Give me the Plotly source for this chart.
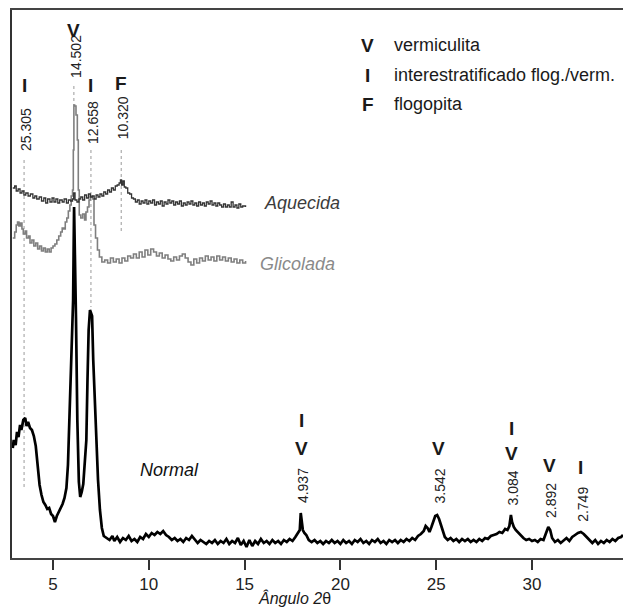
import plotly.graph_objects as go

# ---------------- data (2θ in degrees, relative intensity) ----------------
normal_x = [2.90, 2.95, 3.05, 3.12, 3.20, 3.28, 3.35, 3.45, 3.55, 3.62, 3.70, 3.80, 3.90, 4.00, 4.10, 4.20,
            4.30, 4.40, 4.50, 4.60, 4.70, 4.80, 4.90, 5.00, 5.10, 5.20, 5.30, 5.40, 5.50, 5.60, 5.70, 5.78,
            5.85, 5.92, 6.00, 6.05, 6.10, 6.15, 6.20, 6.27, 6.35, 6.42, 6.50, 6.58, 6.66, 6.74, 6.80, 6.86,
            6.93, 6.98, 7.04, 7.10, 7.18, 7.26, 7.35, 7.45, 7.55, 7.65, 7.80, 7.95, 8.10, 8.20, 8.35, 8.50,
            8.65, 8.80, 8.95, 9.10, 9.25, 9.40, 9.55, 9.70, 9.85, 10.00, 10.15, 10.30, 10.45, 10.60, 10.75,
            10.90, 11.05, 11.20, 11.35, 11.50, 11.65, 11.80, 11.95, 12.10, 12.25, 12.40, 12.55, 12.70, 12.85,
            13.00, 13.15, 13.30, 13.45, 13.60, 13.75, 13.90, 14.05, 14.20, 14.35, 14.50, 14.65, 14.80, 14.95,
            15.10, 15.25, 15.40, 15.55, 15.70, 15.85, 16.00, 16.15, 16.30, 16.45, 16.60, 16.75, 16.90, 17.05,
            17.20, 17.35, 17.50, 17.65, 17.78, 17.88, 17.93, 17.98, 18.04, 18.12, 18.22, 18.35, 18.50, 18.65,
            18.80, 18.95, 19.10, 19.25, 19.40, 19.55, 19.70, 19.85, 20.00, 20.15, 20.30, 20.45, 20.60, 20.75,
            20.90, 21.05, 21.20, 21.35, 21.50, 21.65, 21.80, 21.95, 22.10, 22.25, 22.40, 22.55, 22.70, 22.85,
            23.00, 23.15, 23.30, 23.45, 23.60, 23.75, 23.90, 24.05, 24.20, 24.35, 24.45, 24.55, 24.65, 24.75,
            24.85, 24.95, 25.05, 25.15, 25.25, 25.35, 25.45, 25.60, 25.75, 25.90, 26.05, 26.20, 26.35, 26.50,
            26.65, 26.80, 26.95, 27.10, 27.25, 27.40, 27.55, 27.70, 27.85, 28.00, 28.15, 28.30, 28.45, 28.60,
            28.72, 28.82, 28.90, 28.96, 29.05, 29.15, 29.25, 29.40, 29.55, 29.70, 29.85, 30.00, 30.15, 30.30,
            30.45, 30.60, 30.75, 30.85, 30.95, 31.05, 31.20, 31.35, 31.50, 31.65, 31.80, 31.95, 32.10, 32.25,
            32.40, 32.55, 32.70, 32.85, 33.00, 33.15, 33.30, 33.45, 33.60, 33.75, 33.90, 34.05, 34.20, 34.35,
            34.50, 34.65, 34.75]
normal_y = [110, 118, 113, 126, 121, 133, 128, 138, 140, 132, 136, 130, 128, 122, 112, 93,
            73, 63, 56, 53, 49, 50, 44, 42, 36, 42, 46, 50, 54, 60, 70, 93,
            138, 178, 218, 258, 351, 308, 240, 138, 76, 61, 66, 74, 93, 118, 178, 228,
            248, 246, 242, 198, 158, 123, 78, 48, 30, 22, 20, 18, 22, 17, 21, 16,
            20, 18, 22, 17, 19, 16, 21, 19, 24, 21, 25, 23, 26, 24, 27,
            23, 21, 18, 20, 17, 19, 16, 20, 18, 22, 19, 15, 18, 16,
            14, 17, 15, 18, 14, 17, 15, 19, 14, 17, 15, 20, 13, 17,
            11, 18, 12, 17, 14, 19, 15, 17, 14, 18, 15, 17, 14, 18,
            16, 19, 17, 21, 25, 28, 45, 38, 28, 25, 23, 18, 16, 18,
            15, 17, 14, 17, 15, 18, 15, 17, 14, 18, 15, 17, 14, 18,
            16, 19, 15, 17, 14, 18, 16, 19, 15, 17, 14, 18, 16, 18,
            15, 18, 16, 19, 17, 20, 18, 22, 24, 27, 32, 30, 26, 31,
            36, 42, 43, 39, 33, 26, 21, 18, 20, 17, 19, 16, 19, 17,
            19, 16, 18, 16, 19, 17, 20, 19, 22, 23, 24, 26, 25, 29,
            28, 32, 43, 36, 31, 28, 26, 22, 20, 18, 19, 17, 18, 16,
            19, 18, 25, 31, 28, 20, 16, 18, 15, 18, 20, 17, 21, 23,
            25, 26, 24, 21, 18, 15, 18, 14, 17, 15, 18, 16, 19, 17,
            20, 21, 23]

aquecida_x = [2.90, 3.00, 3.08, 3.18, 3.28, 3.38, 3.48, 3.58, 3.70, 3.82, 3.95, 4.05, 4.15, 4.28, 4.40, 4.52,
              4.62, 4.72, 4.84, 4.95, 5.05, 5.15, 5.25, 5.35, 5.48, 5.58, 5.70, 5.80, 5.92, 6.02, 6.08, 6.15,
              6.25, 6.35, 6.45, 6.55, 6.65, 6.75, 6.85, 6.95, 7.05, 7.15, 7.25, 7.35, 7.45, 7.55, 7.65, 7.75,
              7.85, 7.95, 8.05, 8.15, 8.25, 8.35, 8.45, 8.52, 8.58, 8.65, 8.72, 8.80, 8.90, 9.00, 9.10, 9.20,
              9.30, 9.40, 9.50, 9.60, 9.70, 9.80, 9.90, 10.00, 10.10, 10.20, 10.30, 10.40, 10.50, 10.60, 10.70,
              10.80, 10.90, 11.00, 11.10, 11.20, 11.30, 11.40, 11.50, 11.60, 11.70, 11.80, 11.90, 12.00, 12.10,
              12.20, 12.30, 12.40, 12.50, 12.60, 12.70, 12.80, 12.90, 13.00, 13.10, 13.20, 13.30, 13.40, 13.50,
              13.60, 13.70, 13.80, 13.90, 14.00, 14.10, 14.20, 14.30, 14.40, 14.50, 14.60, 14.70, 14.80, 14.90,
              15.05]
aquecida_y = [370, 372, 367, 369, 365, 367, 363, 365, 362, 364, 360, 362, 359, 361, 357, 360,
              355, 359, 356, 360, 356, 359, 355, 358, 356, 359, 355, 358, 357, 359, 365, 358,
              356, 359, 361, 358, 363, 360, 364, 361, 362, 359, 363, 361, 364, 362, 366, 364,
              368, 366, 370, 368, 372, 373, 375, 378, 373, 377, 371, 370, 365, 364, 360, 359,
              356, 358, 354, 357, 355, 358, 354, 357, 355, 358, 353, 356, 354, 357, 352,
              356, 354, 358, 355, 357, 353, 356, 354, 357, 352, 355, 353, 356, 354,
              357, 353, 355, 352, 356, 353, 355, 352, 356, 354, 357, 353, 355, 352,
              355, 353, 351, 354, 351, 353, 351, 356, 351, 353, 350, 354, 351, 352,
              351]

glicolada_x = [2.90, 3.00, 3.08, 3.15, 3.22, 3.30, 3.38, 3.45, 3.55, 3.62, 3.72, 3.80, 3.90, 4.00, 4.10, 4.20,
               4.30, 4.40, 4.50, 4.60, 4.70, 4.80, 4.90, 5.00, 5.10, 5.20, 5.30, 5.40, 5.48, 5.56, 5.64, 5.72,
               5.80, 5.88, 5.95, 6.02, 6.06, 6.09, 6.13, 6.20, 6.27, 6.32, 6.37, 6.45, 6.55, 6.65, 6.72, 6.80,
               6.88, 6.95, 7.02, 7.08, 7.14, 7.22, 7.32, 7.42, 7.55, 7.70, 7.85, 8.00, 8.15, 8.30, 8.45, 8.60,
               8.75, 8.90, 9.05, 9.20, 9.35, 9.50, 9.65, 9.80, 9.95, 10.10, 10.25, 10.40, 10.55, 10.70, 10.85,
               11.00, 11.15, 11.30, 11.45, 11.60, 11.75, 11.90, 12.05, 12.20, 12.35, 12.50, 12.65, 12.80, 12.95,
               13.10, 13.25, 13.40, 13.55, 13.70, 13.85, 14.00, 14.15, 14.30, 14.45, 14.60, 14.75, 14.90, 15.05]
glicolada_y = [320, 326, 333, 336, 332, 335, 329, 324, 327, 320, 322, 315, 318, 312, 315, 309,
               312, 307, 310, 306, 309, 306, 310, 312, 314, 318, 322, 326, 330, 329, 336, 340,
               347, 353, 362, 368, 408, 453, 452, 443, 418, 368, 343, 340, 344, 338, 346, 351,
               358, 362, 361, 359, 333, 320, 308, 301, 296, 298, 295, 300, 296, 299, 295, 300,
               297, 302, 300, 304, 300, 306, 301, 308, 303, 309, 306, 302, 305, 300, 303,
               299, 297, 301, 298, 302, 304, 300, 296, 293, 299, 295, 300, 297, 302,
               298, 301, 297, 302, 298, 301, 297, 300, 296, 299, 295, 298, 295, 297]

# peak annotations
peak_2theta = [3.49, 6.09, 6.98, 8.56, 17.95, 25.12, 28.93, 30.89, 32.55]
peak_d = ["25.305", "14.502", "12.658", "10.320", "4.937", "3.542", "3.084", "2.892", "2.749"]
peak_label_y = [428, 502, 436, 440, 72, 72, 70, 57, 54]
peak_phases = [["I"], ["V"], ["I"], ["F"], ["V", "I"], ["V"], ["V", "I"], ["V"], ["I"]]
peak_phase_y = [[473], [528], [473], [475], [110, 138], [110], [105, 130], [93], [91]]

# dotted guide lines (2θ, y from, y to)
guide_x = [3.49, 6.09, 6.98, 8.56]
guide_top = [398, 472, 408, 408]
guide_bottom = [71, 453, 251, 326]

legend_symbols = ["V", "I", "F"]
legend_texts = ["vermiculita", "interestratificado flog./verm.", "flogopita"]
legend_y = [513, 483, 454]

curve_names = ["Aquecida", "Glicolada", "Normal"]
curve_label_x = [15.91, 15.70, 9.44]
curve_label_y = [355, 294, 88]
curve_colors = ["#3c3c3c", "#8a8a8a", "#111111"]

tick_vals = [5, 10, 15, 20, 25, 30]
x_range = [2.86, 34.75]
y_range = [0, 548]

FONT = "Liberation Sans, Arial, sans-serif"

fig = go.Figure()

# dotted guides
for gx, gt, gb in zip(guide_x, guide_top, guide_bottom):
    fig.add_trace(go.Scatter(x=[gx, gx], y=[gt, gb], mode="lines",
                             line=dict(color="#9a9a9a", width=1, dash="dot"),
                             hoverinfo="skip", showlegend=False))

fig.add_trace(go.Scatter(x=normal_x, y=normal_y, mode="lines", name="Normal",
                         line=dict(color="#000000", width=2.7), showlegend=False))
fig.add_trace(go.Scatter(x=glicolada_x, y=glicolada_y, mode="lines", name="Glicolada",
                         line=dict(color="#7f7f7f", width=1.6, shape="hv"), showlegend=False))
fig.add_trace(go.Scatter(x=aquecida_x, y=aquecida_y, mode="lines", name="Aquecida",
                         line=dict(color="#333333", width=1.3, shape="hv"), showlegend=False))

ann = []
for px, d, ly, ph, phy in zip(peak_2theta, peak_d, peak_label_y, peak_phases, peak_phase_y):
    ann.append(dict(x=px, y=ly, text=d, textangle=-90, showarrow=False, xshift=2,
                    xanchor="center", yanchor="middle",
                    font=dict(family=FONT, size=14, color="#222222")))
    for s, sy in zip(ph, phy):
        ann.append(dict(x=px, y=sy, text="<b>" + s + "</b>", showarrow=False,
                        xanchor="center", yanchor="middle",
                        font=dict(family=FONT, size=19, color="#1a1a1a")))

for s, t, ly in zip(legend_symbols, legend_texts, legend_y):
    ann.append(dict(x=21.44, y=ly, text="<b>" + s + "</b>", showarrow=False,
                    xanchor="center", yanchor="middle",
                    font=dict(family=FONT, size=19, color="#1a1a1a")))
    ann.append(dict(x=22.69, y=ly, text=t, showarrow=False,
                    xanchor="left", yanchor="middle",
                    font=dict(family=FONT, size=18, color="#1a1a1a")))

for n, cx, cy, cc in zip(curve_names, curve_label_x, curve_label_y, curve_colors):
    ann.append(dict(x=cx, y=cy, text="<i>" + n + "</i>", showarrow=False,
                    xanchor="left", yanchor="middle",
                    font=dict(family=FONT, size=18, color=cc)))

ann.append(dict(x=17.58, y=-0.073, yref="paper", text="<i>Ângulo 2</i>θ", showarrow=False,
                xanchor="center", yanchor="middle",
                font=dict(family=FONT, size=16, color="#1a1a1a")))

fig.update_layout(
    width=623, height=609,
    margin=dict(l=12, r=0, t=10, b=51),
    paper_bgcolor="white", plot_bgcolor="white",
    annotations=ann,
    xaxis=dict(range=x_range, tickvals=tick_vals, ticks="outside", ticklen=10, tickwidth=2,
               tickcolor="#333333", showline=True, linecolor="#444444", linewidth=2, mirror=True,
               showgrid=False, zeroline=False,
               tickfont=dict(family=FONT, size=17, color="#222222")),
    yaxis=dict(range=y_range, showticklabels=False, ticks="", showline=True,
               linecolor="#333333", linewidth=2, mirror=False, showgrid=False, zeroline=False),
)

fig.write_html("out.html")
